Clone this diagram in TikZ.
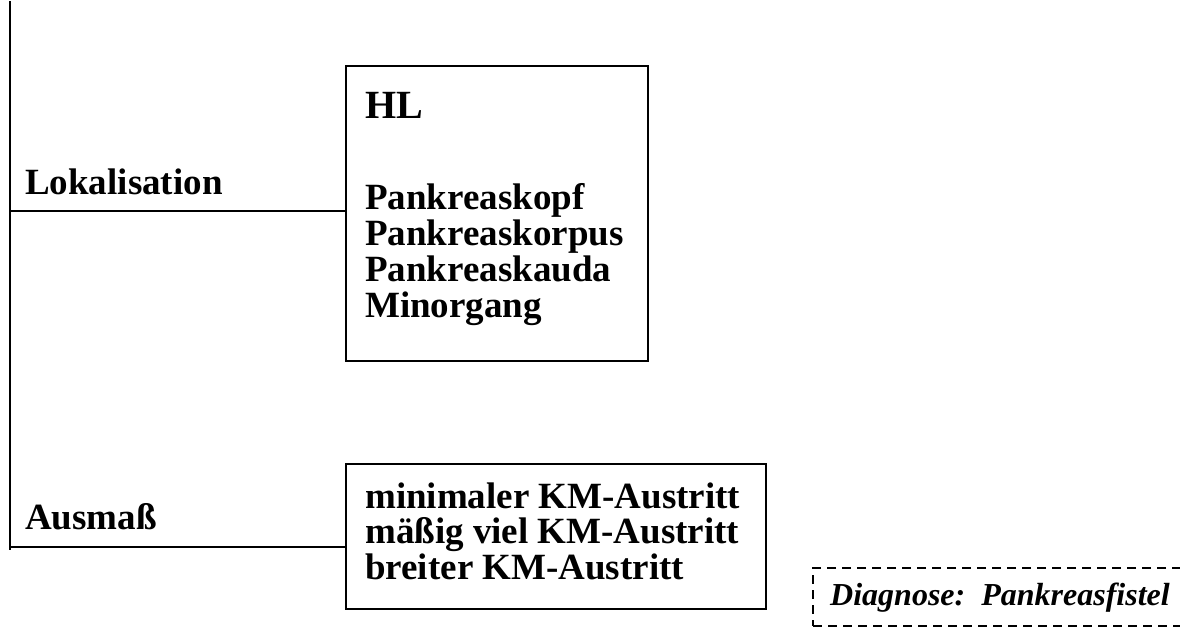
\documentclass[tikz,border=0pt]{standalone}
\usepackage{fontspec}
\setmainfont{Liberation Serif}
\begin{document}
\begin{tikzpicture}[x=1pt,y=-1pt,
  line/.style={line width=2pt, black},
  frame/.style={draw, line width=2pt, inner sep=0pt, anchor=north west},
  label/.style={anchor=base west, inner sep=0pt, font=\fontsize{37}{36}\selectfont\bfseries},
  title/.style={anchor=base west, inner sep=0pt, font=\fontsize{40}{40}\selectfont\bfseries},
  diag/.style={anchor=base west, inner sep=0pt, font=\fontsize{32}{32}\selectfont\bfseries\itshape}]
\useasboundingbox (0,0) rectangle (1180,627);

% main vertical stem
\coordinate (stemtop) at (10,1);
\coordinate (stembot) at (10,550);
\draw[line] (stemtop) -- (stembot);

% category labels
\node[label] (lok) at (25,194) {Lokalisation};
\node[label] (aus) at (25,529) {Ausmaß};

% option boxes
\node[frame, minimum width=302pt, minimum height=295pt] (box1) at (345,65) {};
\node[frame, minimum width=420pt, minimum height=145pt] (box2) at (345,463) {};

% connectors from the stem to the boxes
\coordinate (b1) at (10,211);
\coordinate (b2) at (10,547);
\draw[line] (b1) -- (b1 -| box1.west);
\draw[line] (b2) -- (b2 -| box2.west);

% contents of the first box
\node[title] (hl) at (365,118) {HL};
\node[label] (o1) at (365,209) {Pankreaskopf};
\node[label] (o2) at (365,245) {Pankreaskorpus};
\node[label] (o3) at (365,281) {Pankreaskauda};
\node[label] (o4) at (365,317) {Minorgang};

% contents of the second box
\node[label] (m1) at (365,508) {minimaler KM-Austritt};
\node[label] (m2) at (365,543.5) {mäßig viel KM-Austritt};
\node[label] (m3) at (365,579) {breiter KM-Austritt};

% diagnosis, framed dashed and running off the right edge
\begin{scope}
  \clip (0,0) rectangle (1180,627);
  \node[draw, line width=2pt, dash pattern=on 9pt off 6pt, inner sep=0pt,
        anchor=north west, minimum width=380pt, minimum height=58pt] (dbox) at (812,567) {};
\end{scope}
\node[diag] (diag) at (830,605) {Diagnose:\ \ Pankreasfistel};
\end{tikzpicture}
\end{document}
